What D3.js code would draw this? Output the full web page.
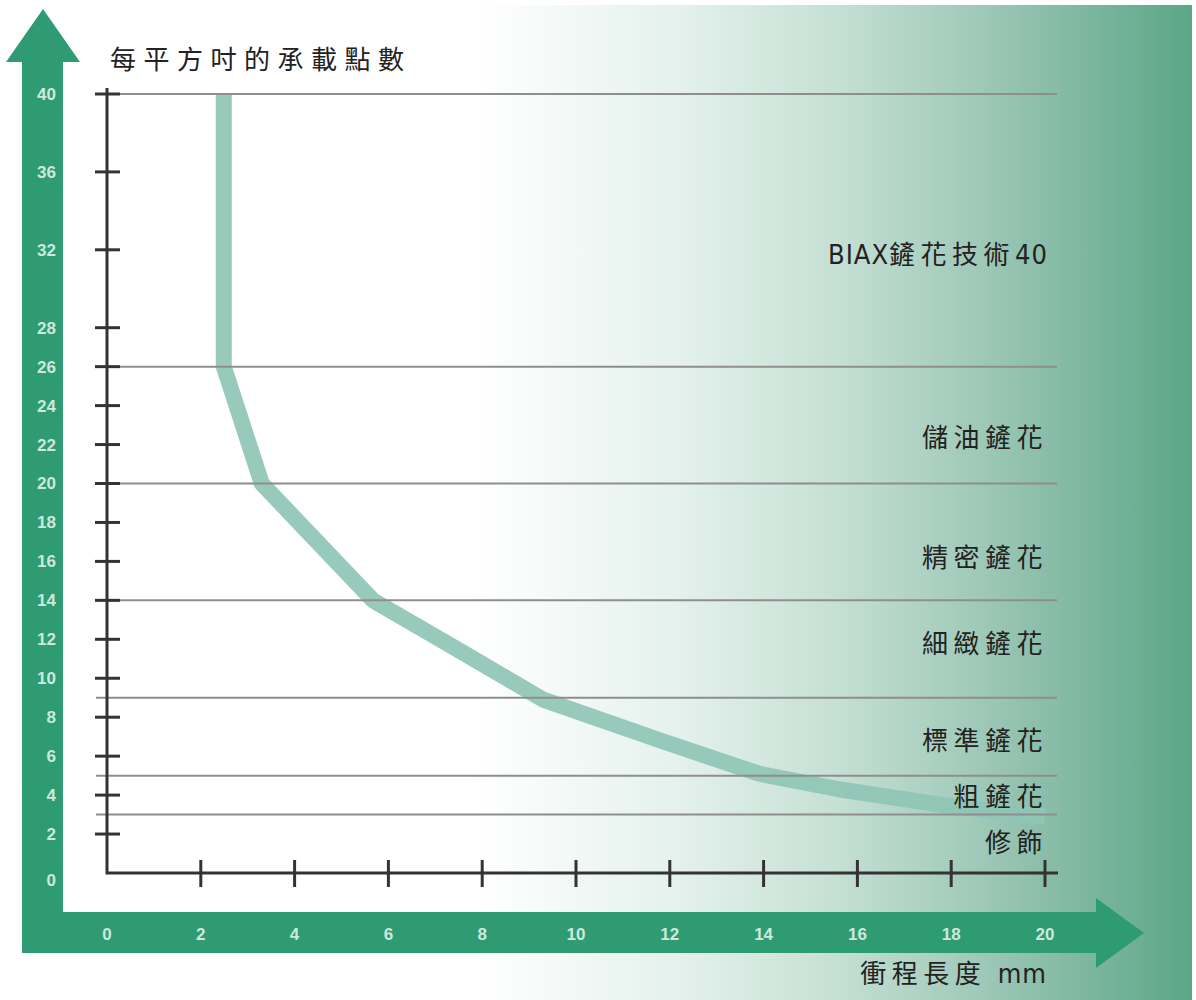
<!DOCTYPE html>
<meta charset="utf-8">
<script src="https://d3js.org/d3.v7.min.js"></script>
<style>
  body {
    margin: 0;
    background: #fff;
  }
  .label {
    font-family: "Noto Sans CJK TC", sans-serif;
    font-size: 26px;
    fill: #222;
    letter-spacing: 5.5px;
  }
  .title {
    letter-spacing: 7.5px;
  }
  .latin {
    font-family: "Liberation Sans Narrow", "DejaVu Sans Condensed", "Liberation Sans", sans-serif;
    font-stretch: condensed;
    font-size: 27px;
    letter-spacing: 1px;
  }
  .barLabel {
    font-family: "Liberation Sans", Arial, sans-serif;
    font-weight: bold;
    font-size: 17px;
    fill: #cde8dc;
  }
  .grid {
    stroke: #8e8e8e;
    stroke-width: 2;
  }
  .axis {
    stroke: #333;
    stroke-width: 3;
    fill: none;
  }
</style>
<body></body>
<script>

// stroke length (mm) vs bearing points per square inch
var strokeMm = [2.49, 2.49, 3.3, 5.67, 7.53, 9.3, 11.8, 13.9, 15.6, 17.8, 20];
var pointsPerIn = [40, 26, 20, 14, 11.4, 8.9, 6.8, 5.1, 4.3, 3.5, 2.9];

// class boundaries (horizontal lines) and the class names between them
var bounds = [40, 26, 20, 14, 9, 5, 3];
var classNames = ["BIAX鏟花技術40", "儲油鏟花", "精密鏟花", "細緻鏟花", "標準鏟花", "粗鏟花", "修飾"];
var classLabelAt = [31.8, 22.4, 16.2, 11.8, 6.8, 3.95, 1.6];

var yTicks = [2, 4, 6, 8, 10, 12, 14, 16, 18, 20, 22, 24, 26, 28, 32, 36, 40];
var yTickLabels = [0, 2, 4, 6, 8, 10, 12, 14, 16, 18, 20, 22, 24, 26, 28, 32, 36, 40];
var xTicks = [2, 4, 6, 8, 10, 12, 14, 16, 18, 20];
var xTickLabels = [0, 2, 4, 6, 8, 10, 12, 14, 16, 18, 20];

var yTitle = "每平方吋的承載點數";
var xTitle = "衝程長度 mm";

var width = 1196, height = 1000;
var green = "#2f9b73";

var svg = d3.select("body").append("svg")
    .attr("width", width)
    .attr("height", height);

var x = d3.scaleLinear().domain([0, 20]).range([107, 1045]),
    y = d3.scaleLinear().domain([0, 40]).range([873, 94]);

// background: white fading into green on the right
var defs = svg.append("defs");
var grad = defs.append("linearGradient")
    .attr("id", "bg")
    .attr("x1", "0%").attr("x2", "100%")
    .attr("y1", "0%").attr("y2", "0%");
[[0, "#ffffff"], [0.40, "#ffffff"], [0.57, "#e4f1ec"], [0.70, "#c6e0d5"],
 [0.83, "#9cc7b6"], [0.92, "#7ab59e"], [1, "#5aa786"]].forEach(function(s) {
  grad.append("stop").attr("offset", s[0]).attr("stop-color", s[1]);
});
svg.append("rect")
    .attr("x", 0).attr("y", 5)
    .attr("width", 1192).attr("height", height - 5)
    .attr("fill", "url(#bg)");

// green arrows
svg.append("path")
    .attr("fill", green)
    .attr("d", "M22,62 L6,62 L43,9 L80,62 L63,62 L63,912 L1096,912 L1096,898 L1144,933 L1096,968 L1096,953 L22,953 Z");

// bar labels
svg.append("g").selectAll("text")
  .data(yTickLabels)
  .enter().append("text")
    .attr("class", "barLabel")
    .attr("x", 56)
    .attr("y", function(d) { return d === 0 ? y(d) + 7 : y(d); })
    .attr("dy", "0.35em")
    .attr("text-anchor", "end")
    .text(function(d) { return d; });
svg.append("g").selectAll("text")
  .data(xTickLabels)
  .enter().append("text")
    .attr("class", "barLabel")
    .attr("x", function(d) { return x(d); })
    .attr("y", 934)
    .attr("dy", "0.35em")
    .attr("text-anchor", "middle")
    .text(function(d) { return d; });

// the curve, a wide pale band
var line = d3.line()
    .x(function(d) { return x(d[0]); })
    .y(function(d) { return y(d[1]); });
svg.append("path")
    .datum(d3.zip(strokeMm, pointsPerIn))
    .attr("fill", "none")
    .attr("stroke", "#8fc5b5")
    .attr("stroke-opacity", 0.92)
    .attr("stroke-width", 16)
    .attr("stroke-linejoin", "round")
    .attr("d", line);

// class boundary lines
svg.append("g").selectAll("line")
  .data(bounds)
  .enter().append("line")
    .attr("class", "grid")
    .attr("x1", function(d) { return d === 40 || d === 26 ? 118 : 96; })
    .attr("x2", 1057)
    .attr("y1", function(d) { return y(d); })
    .attr("y2", function(d) { return y(d); });

// axes
svg.append("path")
    .attr("class", "axis")
    .attr("d", "M" + x(0) + "," + (y(40) - 6) + "V" + y(0) + "H" + (x(20) + 13));
svg.append("g").selectAll("line")
  .data(yTicks)
  .enter().append("line")
    .attr("class", "axis")
    .attr("x1", x(0) - 12).attr("x2", x(0) + 13)
    .attr("y1", function(d) { return y(d); })
    .attr("y2", function(d) { return y(d); });
svg.append("g").selectAll("line")
  .data(xTicks)
  .enter().append("line")
    .attr("class", "axis")
    .attr("x1", function(d) { return x(d); })
    .attr("x2", function(d) { return x(d); })
    .attr("y1", y(0) - 13).attr("y2", y(0) + 14);

// split mixed text so latin runs get the narrow font
function mixed(sel, str) {
  str.split(/([A-Za-z0-9]+)/).filter(function(s) { return s.length; })
    .forEach(function(s) {
      sel.append("tspan")
        .attr("class", /[A-Za-z0-9]/.test(s) ? "latin" : null)
        .text(s);
    });
}

// titles
svg.append("text")
    .attr("class", "label title")
    .attr("x", 110)
    .attr("y", 69)
    .text(yTitle);
svg.append("text")
    .attr("class", "label")
    .attr("x", 1047)
    .attr("y", 983)
    .attr("text-anchor", "end")
    .call(mixed, xTitle);

// class names, right aligned
svg.append("g").selectAll("text")
  .data(classNames)
  .enter().append("text")
    .attr("class", "label")
    .attr("x", 1048)
    .attr("y", function(d, i) { return y(classLabelAt[i]); })
    .attr("dy", "0.38em")
    .attr("text-anchor", "end")
    .each(function(d) { mixed(d3.select(this), d); });

</script>
